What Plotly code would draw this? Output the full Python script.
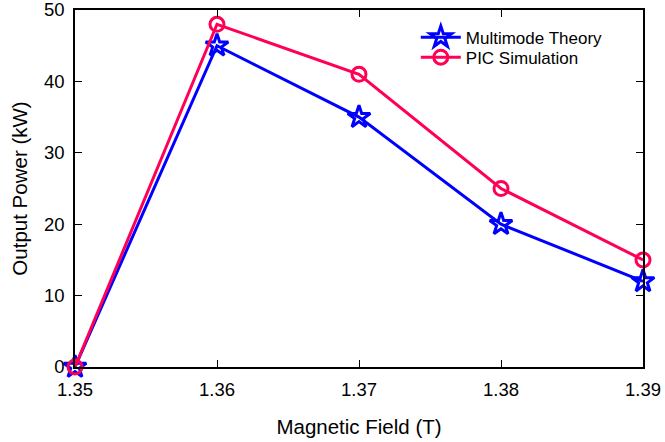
import plotly.graph_objects as go

field = [1.35, 1.36, 1.37, 1.38, 1.39]
theory = [0, 45, 35, 20, 12]
pic = [0, 48, 41, 25, 15]
x_ticks = [1.35, 1.36, 1.37, 1.38, 1.39]
x_tick_labels = ["1.35", "1.36", "1.37", "1.38", "1.39"]
y_ticks = [0, 10, 20, 30, 40, 50]

FONT = "Liberation Sans, Arial, Helvetica, sans-serif"

fig = go.Figure()
fig.add_trace(go.Scatter(
    x=field, y=theory, mode="lines+markers", name="Multimode Theory", cliponaxis=False,
    line=dict(color="#0000ff", width=3), legend="legend",
    marker=dict(symbol="star-open", size=17, color="#0000ff", line=dict(width=3, color="#0000ff")),
))
fig.add_trace(go.Scatter(
    x=field, y=pic, mode="lines+markers", name="PIC Simulation", cliponaxis=False,
    line=dict(color="#ff0055", width=3), legend="legend2",
    marker=dict(symbol="circle-open", size=14, color="#ff0055", line=dict(width=3, color="#ff0055")),
))

axis_common = dict(
    showgrid=False, zeroline=False, showline=True, linecolor="black", linewidth=1.5,
    mirror="allticks", ticks="inside", ticklen=7, tickcolor="black", tickwidth=1,
    automargin=False, ticklabeloverflow="allow",
    tickfont=dict(family=FONT, size=18.5, color="black"),
)
fig.update_xaxes(range=[1.35, 1.39], tickvals=x_ticks, ticktext=x_tick_labels,
                 ticklabelstandoff=5,
                 title=dict(text="Magnetic Field (T)", standoff=21,
                            font=dict(family=FONT, size=20.5, color="black")),
                 **axis_common)
fig.update_yaxes(range=[0, 50], tickvals=y_ticks, ticklabelstandoff=5,
                 title=dict(text="Output Power (kW)", standoff=11,
                            font=dict(family=FONT, size=20.5, color="black")),
                 **axis_common)

leg_common = dict(x=0.6, xanchor="left", yanchor="top", bgcolor="rgba(0,0,0,0)",
                  font=dict(family=FONT, size=17, color="black"), itemwidth=40)
fig.update_layout(
    width=665, height=442,
    margin=dict(l=75, r=22, t=10, b=75, autoexpand=False),
    paper_bgcolor="white", plot_bgcolor="white",
    font=dict(family=FONT, size=14, color="black"),
    legend=dict(y=0.973, **leg_common),
    legend2=dict(y=0.917, **leg_common),
    showlegend=True,
)
fig.write_html("out.html", config={"displayModeBar": False},
               post_script="document.body.style.margin='0';document.body.style.overflow='hidden';")
